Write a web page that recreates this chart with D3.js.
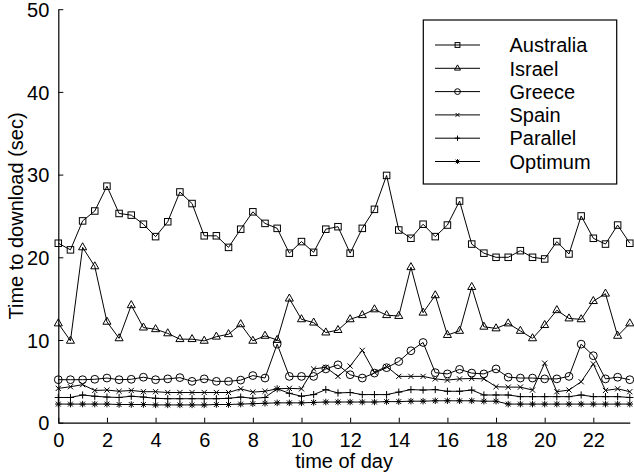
<!DOCTYPE html>
<html><head><meta charset="utf-8">
<script src="https://cdn.jsdelivr.net/npm/d3@7"></script>
<style>body{margin:0;background:#fff}svg{display:block}text{font-family:Arial,"Liberation Sans",sans-serif;fill:#000}</style>
</head><body><svg id="c" width="634" height="476"></svg>
<script>
const hours = d3.range(48).map(i => i * 0.5);
const xTicks = [0,2,4,6,8,10,12,14,16,18,20,22];
const yTicks = [0,10,20,30,40,50];
const seriesNames = ["Australia","Israel","Greece","Spain","Parallel","Optimum"];
const australia = [21.7,20.9,24.4,25.6,28.6,25.3,25.1,24.0,22.5,24.3,27.9,26.5,22.6,22.6,21.2,23.4,25.5,24.1,23.5,20.5,21.9,20.6,23.4,23.7,20.5,23.5,25.8,29.9,23.3,22.3,24.0,22.5,23.9,26.8,21.6,20.5,20.0,20.0,20.8,20.0,19.8,21.9,20.4,25.0,22.3,21.6,23.9,21.7];
const israel = [12.0,9.9,21.2,18.9,12.2,10.2,14.2,11.5,11.3,10.8,10.1,10.1,9.9,10.4,10.7,11.9,9.9,10.5,10.0,15.0,12.5,12.1,10.9,11.2,12.5,13.0,13.7,13.0,12.9,18.8,13.3,15.4,10.6,11.1,16.4,11.6,11.4,12.0,11.1,10.2,11.8,13.6,12.6,12.5,14.7,15.6,10.5,12.0];
const greece = [5.2,5.2,5.2,5.25,5.4,5.2,5.25,5.5,5.2,5.3,5.45,5.0,5.3,5.0,5.0,5.15,5.7,5.4,9.5,5.6,5.6,5.6,6.5,7.0,5.8,5.4,6.0,6.65,7.4,8.7,9.7,6.05,5.9,6.45,6.0,5.9,6.5,5.5,5.4,5.4,5.3,5.3,5.6,9.5,8.1,5.3,5.5,5.2];
const spain = [4.15,4.35,4.6,3.9,3.95,3.8,3.9,3.75,3.75,3.65,3.65,3.65,3.65,3.65,3.65,4.1,3.7,3.8,4.1,4.15,4.1,6.5,6.7,5.6,6.85,8.75,6.1,6.8,5.6,5.6,5.6,5.3,5.15,5.3,5.35,5.3,4.35,4.3,4.3,3.95,7.2,3.75,3.95,4.95,7.1,3.9,4.1,3.75];
const parallel = [3.05,3.05,3.35,3.2,3.1,3.05,3.2,3.1,2.95,2.9,2.9,2.9,2.9,2.9,2.95,3.1,2.95,3.05,4.1,3.55,3.2,3.4,4.0,3.6,3.65,3.4,3.4,3.4,3.7,4.0,3.95,4.0,3.8,3.8,3.95,3.35,3.35,3.35,3.15,3.15,3.15,3.15,3.15,3.35,3.15,3.15,3.15,3.05];
const optimum = [2.25,2.25,2.25,2.25,2.25,2.2,2.2,2.2,2.15,2.15,2.15,2.15,2.15,2.2,2.2,2.25,2.3,2.35,2.4,2.4,2.4,2.45,2.5,2.5,2.5,2.5,2.5,2.55,2.55,2.6,2.6,2.65,2.65,2.65,2.65,2.6,2.6,2.25,2.25,2.25,2.25,2.25,2.25,2.25,2.25,2.25,2.25,2.25];
const markers = ["square","triangle","circle","cross","plus","star"];
const allSeries = [australia,israel,greece,spain,parallel,optimum];

const svg = d3.select("#c");
const m = {l:58.3, r:634-629.8, t:9.2, b:476-422.7};
const W = 634 - m.l - m.r, H = 476 - m.t - m.b;
const x = d3.scaleLinear().domain([0,23.5]).range([m.l, m.l+W]);
const y = d3.scaleLinear().domain([0,50]).range([m.t+H, m.t]);

// axes
const xa = svg.append("g").attr("transform",`translate(0,${m.t+H})`)
  .call(d3.axisBottom(x).tickValues(xTicks).tickSize(-5).tickPadding(10).tickSizeOuter(0));
const ya = svg.append("g").attr("transform",`translate(${m.l},0)`)
  .call(d3.axisLeft(y).tickValues(yTicks).tickSize(-5).tickPadding(9).tickSizeOuter(0));
[xa,ya].forEach(a=>{
  a.select(".domain").attr("stroke","#000").attr("stroke-width",1.2);
  a.selectAll(".tick line").attr("stroke","#000");
  a.selectAll("text").attr("font-size",20).attr("font-family","Arial, 'Liberation Sans', sans-serif").attr("fill","#000");
});
ya.selectAll(".tick text").attr("dy","0.36em");
xa.selectAll(".tick text").attr("dy","0.72em");

svg.append("text").attr("x",(m.l+m.l+W)/2).attr("y",468).attr("text-anchor","middle").attr("font-size",20).text("time of day");
svg.append("text").attr("transform",`translate(23,${m.t+H/2}) rotate(-90)`).attr("text-anchor","middle").attr("font-size",20).text("Time to download (sec)");

function drawMarker(g, type, cx, cy, s){
  const p = d3.path();
  if(type==="square"){ g.append("rect").attr("x",cx-s*0.5).attr("y",cy-s*0.5).attr("width",s).attr("height",s); return; }
  if(type==="triangle"){ const h=s*0.62; p.moveTo(cx,cy-h*1.15); p.lineTo(cx+h,cy+h*0.6); p.lineTo(cx-h,cy+h*0.6); p.closePath(); }
  if(type==="circle"){ g.append("circle").attr("cx",cx).attr("cy",cy).attr("r",s*0.6); return; }
  if(type==="cross"){ const d=s*0.4; p.moveTo(cx-d,cy-d); p.lineTo(cx+d,cy+d); p.moveTo(cx-d,cy+d); p.lineTo(cx+d,cy-d); }
  if(type==="plus"){ const d=s*0.55; p.moveTo(cx-d,cy); p.lineTo(cx+d,cy); p.moveTo(cx,cy-d); p.lineTo(cx,cy+d); }
  if(type==="star"){ const d=s*0.5, e=d*0.75; p.moveTo(cx-d,cy); p.lineTo(cx+d,cy); p.moveTo(cx,cy-d); p.lineTo(cx,cy+d); p.moveTo(cx-e,cy-e); p.lineTo(cx+e,cy+e); p.moveTo(cx-e,cy+e); p.lineTo(cx+e,cy-e); }
  g.append("path").attr("d",p.toString());
}

const line = d3.line().x((d,i)=>x(hours[i])).y(d=>y(d));
allSeries.forEach((vals,k)=>{
  const g = svg.append("g").attr("fill","none").attr("stroke","#000").attr("stroke-width",1);
  g.append("path").attr("d",line(vals));
  vals.forEach((v,i)=>drawMarker(g, markers[k], x(hours[i]), y(v), 6.5));
});

// legend
const lg = svg.append("g");
lg.append("rect").attr("x",423.3).attr("y",20).attr("width",193.4).attr("height",164).attr("fill","#fff").attr("stroke","#000").attr("stroke-width",1.2);
seriesNames.forEach((n,k)=>{
  const cy = 45 + k*23.3;
  const g = lg.append("g").attr("fill","none").attr("stroke","#000").attr("stroke-width",1);
  g.append("line").attr("x1",435).attr("x2",480).attr("y1",cy).attr("y2",cy);
  drawMarker(g, markers[k], 457.5, cy, 4.8);
  lg.append("text").attr("x",509.5).attr("y",cy).attr("dy","0.36em").attr("font-size",20).text(n);
});
</script></body></html>
